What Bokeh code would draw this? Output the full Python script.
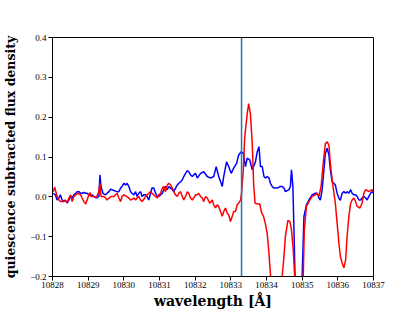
from bokeh.plotting import figure
from bokeh.models import Range1d, FixedTicker, Span
from bokeh.embed import file_html
from bokeh.resources import INLINE

# ---- data ----
blue_wl = [10828.02, 10828.08, 10828.13, 10828.18, 10828.22, 10828.27, 10828.32, 10828.36, 10828.41, 10828.46,
           10828.51, 10828.55, 10828.60, 10828.65, 10828.69, 10828.74, 10828.79, 10828.83, 10828.88, 10828.93,
           10828.97, 10829.02, 10829.07, 10829.11, 10829.16, 10829.23, 10829.30, 10829.33, 10829.36, 10829.42,
           10829.49, 10829.53, 10829.58, 10829.63, 10829.67, 10829.72, 10829.81, 10829.86, 10829.91, 10829.95,
           10830.00, 10830.05, 10830.09, 10830.14, 10830.19, 10830.23, 10830.28, 10830.33, 10830.37, 10830.42,
           10830.47, 10830.51, 10830.56, 10830.61, 10830.65, 10830.70, 10830.75, 10830.79, 10830.84, 10830.89,
           10830.94, 10830.98, 10831.03, 10831.08, 10831.12, 10831.17, 10831.22, 10831.26, 10831.31, 10831.36,
           10831.40, 10831.45, 10831.50, 10831.54, 10831.59, 10831.64, 10831.68, 10831.73, 10831.78, 10831.82,
           10831.87, 10831.92, 10831.96, 10832.01, 10832.06, 10832.15, 10832.24, 10832.34, 10832.43, 10832.52,
           10832.59, 10832.66, 10832.76, 10832.80, 10832.88, 10832.94, 10833.01, 10833.08, 10833.16, 10833.22,
           10833.29, 10833.35, 10833.41, 10833.46, 10833.53, 10833.60, 10833.64, 10833.69, 10833.74, 10833.79,
           10833.83, 10833.88, 10833.93, 10833.97, 10834.02, 10834.07, 10834.11, 10834.16, 10834.21, 10834.30,
           10834.39, 10834.44, 10834.49, 10834.53, 10834.63, 10834.67, 10834.70, 10834.74, 10834.77, 10834.80,
           10834.85, 10834.93, 10835.00, 10835.05, 10835.12, 10835.19, 10835.28, 10835.37, 10835.42, 10835.47,
           10835.51, 10835.56, 10835.61, 10835.65, 10835.70, 10835.75, 10835.79, 10835.84, 10835.89, 10835.93,
           10835.98, 10836.03, 10836.07, 10836.12, 10836.17, 10836.22, 10836.26, 10836.31, 10836.36, 10836.40,
           10836.45, 10836.50, 10836.54, 10836.59, 10836.64, 10836.68, 10836.73, 10836.78, 10836.82, 10836.87,
           10836.92, 10836.96, 10837.01]
blue_flux = [0.009, 0.005, -0.008, -0.003, 0.005, -0.008, -0.012, -0.008, -0.016, -0.008,
             0.001, -0.003, 0.005, 0.009, 0.013, 0.013, 0.009, 0.009, 0.011, 0.009,
             0.009, 0.005, 0.003, 0.005, 0.001, -0.003, 0.001, 0.055, 0.026, 0.008,
             0.005, 0.009, 0.013, 0.019, 0.018, 0.016, 0.013, 0.013, 0.022, 0.026,
             0.034, 0.030, 0.034, 0.026, 0.013, 0.009, 0.005, 0.013, 0.001, 0.009,
             0.013, 0.001, 0.005, 0.005, 0.001, -0.008, 0.009, 0.022, 0.022, 0.009,
             0.001, 0.001, 0.005, 0.009, 0.018, 0.026, 0.018, 0.026, 0.022, 0.018,
             0.013, 0.022, 0.030, 0.034, 0.038, 0.043, 0.051, 0.059, 0.066, 0.063,
             0.055, 0.051, 0.055, 0.059, 0.047, 0.059, 0.063, 0.051, 0.047, 0.051,
             0.076, 0.051, 0.026, 0.051, 0.088, 0.076, 0.059, 0.072, 0.084, 0.105,
             0.113, 0.109, 0.076, 0.097, 0.093, 0.068, 0.076, 0.088, 0.113, 0.126,
             0.076, 0.076, 0.051, 0.047, 0.051, 0.047, 0.034, 0.026, 0.022, 0.022,
             0.026, 0.026, 0.022, 0.013, 0.018, 0.026, 0.068, 0.026, -0.083, -0.200,
             -0.310, -0.300, -0.200, -0.049, -0.020, -0.008, 0.005, 0.009, 0.009, -0.003,
             -0.008, 0.018, 0.068, 0.109, 0.122, 0.105, 0.068, 0.038, 0.034, 0.030,
             0.009, -0.003, -0.009, 0.009, 0.013, 0.009, 0.013, 0.009, 0.018, 0.009,
             0.005, 0.005, 0.001, -0.008, -0.008, -0.003, 0.001, -0.003, -0.008, 0.001,
             0.009, 0.013, 0.009]

red_wl = [10828.02, 10828.06, 10828.13, 10828.18, 10828.22, 10828.30, 10828.36, 10828.41, 10828.46, 10828.51,
          10828.55, 10828.60, 10828.65, 10828.71, 10828.79, 10828.83, 10828.88, 10828.93, 10828.97, 10829.02,
          10829.05, 10829.08, 10829.16, 10829.23, 10829.30, 10829.33, 10829.36, 10829.44, 10829.49, 10829.53,
          10829.58, 10829.65, 10829.72, 10829.81, 10829.86, 10829.91, 10829.95, 10830.00, 10830.08, 10830.14,
          10830.19, 10830.23, 10830.28, 10830.33, 10830.37, 10830.42, 10830.47, 10830.51, 10830.56, 10830.61,
          10830.65, 10830.70, 10830.75, 10830.79, 10830.84, 10830.89, 10830.94, 10830.98, 10831.03, 10831.08,
          10831.12, 10831.17, 10831.22, 10831.26, 10831.31, 10831.36, 10831.40, 10831.45, 10831.50, 10831.54,
          10831.59, 10831.64, 10831.68, 10831.73, 10831.78, 10831.82, 10831.87, 10831.92, 10831.96, 10832.01,
          10832.06, 10832.10, 10832.15, 10832.20, 10832.24, 10832.29, 10832.34, 10832.41, 10832.48, 10832.52,
          10832.57, 10832.62, 10832.66, 10832.71, 10832.76, 10832.80, 10832.85, 10832.90, 10832.94, 10832.99,
          10833.04, 10833.08, 10833.13, 10833.18, 10833.22, 10833.27, 10833.30, 10833.35, 10833.39, 10833.46,
          10833.50, 10833.55, 10833.60, 10833.64, 10833.68, 10833.76, 10833.81, 10833.86, 10833.92, 10833.97,
          10834.02, 10834.06, 10834.11, 10834.16, 10834.25, 10834.35, 10834.44, 10834.49, 10834.53, 10834.60,
          10834.66, 10834.70, 10834.75, 10834.79, 10834.87, 10834.97, 10835.03, 10835.06, 10835.12, 10835.19,
          10835.28, 10835.37, 10835.42, 10835.47, 10835.53, 10835.59, 10835.65, 10835.70, 10835.75, 10835.79,
          10835.84, 10835.89, 10835.93, 10835.98, 10836.03, 10836.07, 10836.12, 10836.17, 10836.22, 10836.26,
          10836.31, 10836.36, 10836.40, 10836.45, 10836.50, 10836.54, 10836.62, 10836.68, 10836.73, 10836.78,
          10836.87, 10836.96, 10837.01]
red_flux = [0.013, 0.024, 0.001, -0.008, -0.012, -0.012, -0.009, -0.014, -0.003, 0.005,
            -0.012, 0.001, 0.005, 0.009, 0.005, -0.003, -0.012, -0.018, -0.008, 0.005,
            0.011, 0.001, 0.001, -0.001, 0.013, 0.034, 0.001, 0.001, -0.003, -0.008,
            -0.003, 0.001, 0.001, 0.009, -0.003, -0.012, 0.001, 0.005, 0.001, -0.003,
            -0.008, -0.006, -0.003, -0.008, -0.003, 0.001, -0.008, -0.012, -0.006, 0.001,
            0.005, 0.009, 0.013, 0.009, 0.005, 0.001, -0.003, 0.005, 0.009, 0.022,
            0.026, 0.013, 0.030, 0.034, 0.030, 0.022, 0.013, 0.005, 0.001, 0.009,
            0.013, 0.001, -0.008, 0.001, 0.013, 0.009, -0.003, -0.008, -0.003, 0.005,
            0.005, 0.009, 0.001, -0.003, -0.012, 0.001, -0.003, -0.016, -0.008, -0.020,
            -0.028, -0.020, -0.024, -0.037, -0.049, -0.037, -0.028, -0.041, -0.045, -0.062,
            -0.049, -0.037, -0.037, -0.020, -0.016, -0.009, 0.009, 0.068, 0.151, 0.209,
            0.234, 0.207, 0.135, 0.030, -0.016, -0.018, -0.018, -0.039, -0.050, -0.068,
            -0.093, -0.132, -0.193, -0.250, -0.320, -0.300, -0.200, -0.149, -0.099, -0.059,
            -0.063, -0.083, -0.133, -0.200, -0.300, -0.300, -0.200, -0.083, -0.024, -0.012,
            0.001, 0.005, 0.009, 0.001, 0.026, 0.084, 0.134, 0.138, 0.130, 0.084,
            0.043, 0.009, -0.016, -0.066, -0.116, -0.149, -0.166, -0.178, -0.158, -0.099,
            -0.049, -0.016, -0.008, -0.003, -0.012, -0.024, -0.028, -0.016, 0.009, 0.018,
            0.013, 0.018, 0.013]

line_center = 10833.3
x_ticks = [10828, 10829, 10830, 10831, 10832, 10833, 10834, 10835, 10836, 10837]
y_ticks = [-0.2, -0.1, 0.0, 0.1, 0.2, 0.3, 0.4]
y_tick_labels = ["\u22120.2", "\u22120.1", "0.0", "0.1", "0.2", "0.3", "0.4"]

TICK_FONT = "Liberation Serif"
LABEL_FONT = "DejaVu Serif"

p = figure(width=415, height=311, output_backend="svg", toolbar_location=None,
           x_range=Range1d(10828, 10837), y_range=Range1d(-0.2, 0.4),
           min_border_left=52, min_border_right=42, min_border_top=37, min_border_bottom=34)
p.background_fill_color = "white"
p.border_fill_color = "white"
p.grid.visible = False
p.outline_line_color = "black"
p.outline_line_width = 1

for ax in (p.xaxis[0], p.yaxis[0]):
    ax.axis_line_color = "black"
    ax.major_tick_line_color = "black"
    ax.minor_tick_line_color = None
    ax.major_tick_in = 0
    ax.major_tick_out = 4
    ax.major_label_text_font = TICK_FONT
    ax.major_label_text_font_size = "9px"
    ax.major_label_text_color = "black"
    ax.axis_label_text_font = LABEL_FONT
    ax.axis_label_text_font_style = "bold"
    ax.axis_label_text_color = "black"

p.xaxis.ticker = FixedTicker(ticks=x_ticks)
p.xaxis.major_label_overrides = {t: str(t) for t in x_ticks}
p.xaxis.major_label_standoff = 1
p.xaxis.axis_label = "wavelength [\u00c5]"
p.xaxis.axis_label_text_font_size = "14px"
p.xaxis.axis_label_standoff = 2

p.yaxis.ticker = FixedTicker(ticks=y_ticks)
p.yaxis.major_label_overrides = {t: l for t, l in zip(y_ticks, y_tick_labels)}
p.yaxis.major_label_standoff = 2
p.yaxis.axis_label = "quiescence subtracted flux density"
p.yaxis.axis_label_text_font_size = "12.5px"
p.yaxis.axis_label_standoff = 9

p.line(blue_wl, blue_flux, line_color="#0000ff", line_width=1.5)
p.line(red_wl, red_flux, line_color="#ff0000", line_width=1.5)
p.add_layout(Span(location=line_center, dimension="height", line_color="#1f77b4", line_width=1.5))

open("out.html", "w").write(file_html(p, INLINE))
